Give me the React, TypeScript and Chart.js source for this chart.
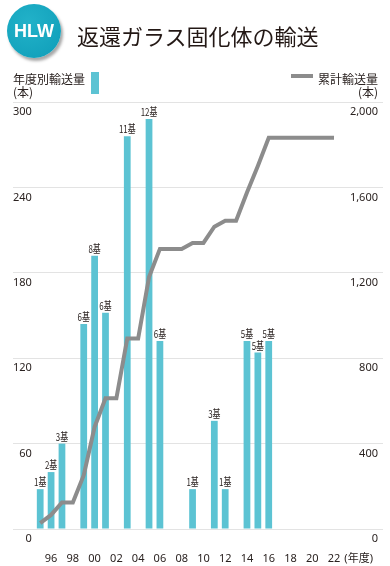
import React, { useEffect, useRef } from "react";
import { Chart, registerables } from "chart.js";

Chart.register(...registerables);

// ---- data ----
const fiscalYears = [
  1993, 1994, 1995, 1996, 1997, 1998, 1999, 2000, 2001, 2002, 2003, 2004, 2005, 2006, 2007, 2008,
  2009, 2010, 2011, 2012, 2013, 2014, 2015, 2016, 2017, 2018, 2019, 2020, 2021, 2022, 2023, 2024,
  2025, 2026,
];
const xTickLabels = [
  "", "", "", "96", "", "98", "", "00", "", "02", "", "04", "", "06", "", "08",
  "", "10", "", "12", "", "14", "", "16", "", "18", "", "20", "", "22", "", "  (年度)",
  "", "",
];
const annualShipments = [
  null, null, 28, 40, 60, null, 144, 192, 152, null, 276, null, 288, 132, null, null,
  28, null, 76, 28, null, 132, 124, 132, null, null, null, null, null, null, null, null,
  null, null,
];
const caskLabels = [
  "", "", "1基", "2基", "3基", "", "6基", "8基", "6基", "", "11基", "", "12基", "6基", "", "",
  "1基", "", "3基", "1基", "", "5基", "5基", "5基", "", "", "", "", "", "", "", "",
  "", "",
];
const cumulativeShipments = [
  null, null, 28, 66, 124, 124, 252, 478, 612, 612, 892, 892, 1180, 1312, 1312, 1312,
  1340, 1340, 1416, 1444, 1444, 1576, 1700, 1832, 1832, 1832, 1832, 1832, 1832, 1832, null, null,
  null, null,
];
const leftTicks = [0, 60, 120, 180, 240, 300];
const rightTicks = [0, 400, 800, 1200, 1600, 2000];

const BAR_COLOR = "#5cc3d3";
const LINE_COLOR = "#8c8c8c";
const TEXT_COLOR = "#2a2220";
const GRID_COLOR = "#e3e3e3";
const NUM_FONT = "'Noto Sans', 'Noto Sans CJK JP', sans-serif";
const JP_FONT = "'Noto Sans CJK JP', 'Noto Sans', sans-serif";

const barLabelPlugin = {
  id: "barLabels",
  afterDatasetsDraw(chart: any) {
    const meta = chart.getDatasetMeta(1);
    const ctx = chart.ctx;
    ctx.save();
    ctx.fillStyle = TEXT_COLOR;
    ctx.font = `11px ${JP_FONT}`;
    ctx.textAlign = "center";
    ctx.textBaseline = "bottom";
    meta.data.forEach((el: any, i: number) => {
      const label = caskLabels[i];
      if (!label || annualShipments[i] == null) return;
      ctx.save();
      ctx.translate(el.x, el.y - 1.5);
      ctx.scale(0.72, 1);
      ctx.fillText(label, 0, 0);
      ctx.restore();
    });
    ctx.restore();
  },
};

export default function App() {
  const canvasRef = useRef<HTMLCanvasElement | null>(null);

  useEffect(() => {
    if (!canvasRef.current) return;
    const chart = new Chart(canvasRef.current, {
      type: "bar",
      data: {
        labels: fiscalYears.map(String),
        datasets: [
          {
            type: "line",
            data: cumulativeShipments,
            yAxisID: "yRight",
            borderColor: LINE_COLOR,
            backgroundColor: LINE_COLOR,
            borderWidth: 4,
            pointRadius: 0,
            tension: 0,
            order: 0,
          } as any,
          {
            type: "bar",
            data: annualShipments,
            yAxisID: "yLeft",
            backgroundColor: BAR_COLOR,
            barPercentage: 0.62,
            categoryPercentage: 1,
            order: 1,
          } as any,
        ],
      },
      options: {
        animation: false,
        responsive: false,
        maintainAspectRatio: false,
        layout: { padding: { top: 102, left: 13, right: 17, bottom: 0 } },
        plugins: { legend: { display: false }, tooltip: { enabled: false } },
        scales: {
          x: {
            grid: { display: false },
            border: { display: false },
            ticks: {
              autoSkip: false,
              maxRotation: 0,
              minRotation: 0,
              padding: 15.4,
              color: TEXT_COLOR,
              font: { size: 11, family: NUM_FONT },
              callback: (_v: any, i: number) => xTickLabels[i],
            },
          },
          yLeft: {
            position: "left",
            min: leftTicks[0],
            max: leftTicks[leftTicks.length - 1],
            afterBuildTicks: (s: any) => {
              s.ticks = leftTicks.map((v) => ({ value: v }));
            },
            grid: { color: GRID_COLOR, drawTicks: false },
            border: { display: false },
            ticks: {
              mirror: true,
              crossAlign: "far",
              padding: 0,
              labelOffset: 10,
              color: TEXT_COLOR,
              font: { size: 11, family: NUM_FONT },
            },
          },
          yRight: {
            position: "right",
            min: rightTicks[0],
            max: rightTicks[rightTicks.length - 1],
            afterBuildTicks: (s: any) => {
              s.ticks = rightTicks.map((v) => ({ value: v }));
            },
            grid: {
              drawOnChartArea: false,
              drawTicks: true,
              tickLength: 10,
              tickColor: "rgba(0,0,0,0)",
            },
            border: { display: false },
            ticks: {
              mirror: true,
              padding: -5,
              labelOffset: 10,
              color: TEXT_COLOR,
              font: { size: 11, family: NUM_FONT },
              callback: (v: any) => Number(v).toLocaleString("en-US"),
            },
          },
        },
      } as any,
      plugins: [barLabelPlugin],
    });
    return () => chart.destroy();
  }, []);

  return (
    <div
      style={{
        position: "absolute",
        left: 0,
        top: 0,
        width: 390,
        height: 566,
        background: "#fff",
        fontFamily: JP_FONT,
        color: TEXT_COLOR,
        overflow: "hidden",
      }}
    >
      <canvas
        ref={canvasRef}
        width={400}
        height={581}
        style={{ position: "absolute", left: 0, top: 0, width: 400, height: 581 }}
      />
      <div
        style={{
          position: "absolute",
          left: 7,
          top: 4,
          width: 54,
          height: 54,
          borderRadius: "50%",
          background: "radial-gradient(circle at 40% 35%, #22b2c9 0%, #14a3bd 70%, #1199b3 100%)",
          boxShadow: "2px 3px 3px rgba(0,0,0,0.35)",
          color: "#fff",
          fontFamily: "'Liberation Sans', Arial, sans-serif",
          fontWeight: 700,
          fontSize: 18,
          lineHeight: "54px",
          textAlign: "center",
        }}
      >
        HLW
      </div>
      <div
        style={{
          position: "absolute",
          left: 77,
          top: 23,
          fontSize: 22,
          lineHeight: "24px",
          whiteSpace: "nowrap",
          color: "#231815",
        }}
      >
        返還ガラス固化体の輸送
      </div>
      <div
        style={{
          position: "absolute",
          left: 13,
          top: 72,
          fontSize: 12,
          lineHeight: "13px",
          whiteSpace: "nowrap",
        }}
      >
        <div>年度別輸送量</div>
        <div>(本)</div>
      </div>
      <div
        style={{ position: "absolute", left: 91, top: 72, width: 8, height: 22, background: BAR_COLOR }}
      />
      <div
        style={{ position: "absolute", left: 291, top: 74, width: 22, height: 4, background: LINE_COLOR }}
      />
      <div
        style={{
          position: "absolute",
          right: 12,
          top: 72,
          fontSize: 12,
          lineHeight: "13px",
          textAlign: "right",
          whiteSpace: "nowrap",
        }}
      >
        <div>累計輸送量</div>
        <div>(本)</div>
      </div>
    </div>
  );
}
